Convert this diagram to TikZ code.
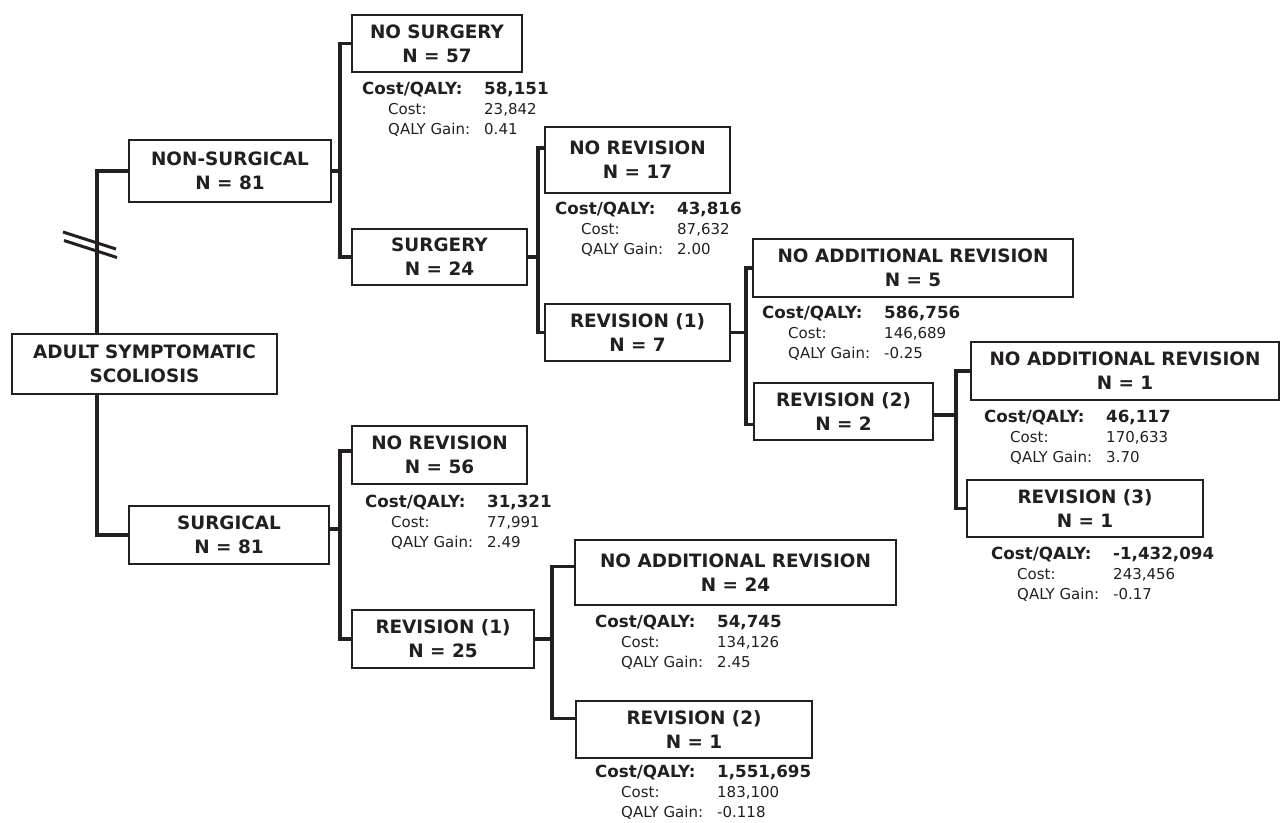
\documentclass[tikz,border=0pt]{standalone}
\usepackage{fontspec}
\setmainfont{DejaVu Sans}
\usepackage{xcolor}
\usepackage{tikz}
\definecolor{ink}{RGB}{35,31,32}

\newcommand{\boxfont}{\bfseries\fontsize{18.4}{24}\selectfont}
\newcommand{\infofont}{\fontsize{15}{20}\selectfont}
\newcommand{\infobold}{\bfseries\fontsize{16.7}{20}\selectfont}
\newcommand{\costinfo}[3]{%
  \begin{tabular}[t]{@{}p{122pt}@{}l@{}}
    {\infobold Cost/QALY:} & {\infobold #1}\\
    \hspace*{26pt}Cost: & #2\\
    \hspace*{26pt}QALY Gain: & #3
  \end{tabular}}

\begin{document}
\begin{tikzpicture}[x=1pt, y=-1pt,
    box/.style={draw=ink, line width=2.3pt, fill=white, text=ink, font=\boxfont, align=center, inner sep=0pt},
    link/.style={draw=ink, line width=3.5pt},
    info/.style={text=ink, font=\infofont, inner sep=0pt, anchor=base west}]
    \useasboundingbox (0,0) rectangle (1281,822);

    % Root and the two arms
    \node[box, minimum width=265, minimum height=60] (root) at (144.5,364) {ADULT SYMPTOMATIC\\SCOLIOSIS};
    \node[box, minimum width=202, minimum height=62] (nsurg) at (230,171) {NON-SURGICAL\\N = 81};
    \node[box, minimum width=200, minimum height=58] (surg) at (229,535) {SURGICAL\\N = 81};
    \coordinate (trunk) at (97,364);
    \draw[link] (nsurg.west) -| (root.north -| trunk);
    \draw[link] (root.south -| trunk) |- (surg.west);
    \draw[ink, line width=3pt] (63,232) -- (116,249);
    \draw[ink, line width=3pt] (64,240.5) -- (117,257.5);

    % Non-surgical arm
    \node[box, minimum width=170, minimum height=57] (nosurg) at (437,43.5) {NO SURGERY\\N = 57};
    \node[info] (nosurgC) at (362,94) {\costinfo{58,151}{23,842}{0.41}};
    \node[box, minimum width=175, minimum height=56] (surgery) at (439.5,257) {SURGERY\\N = 24};
    \draw[link] (nsurg.east) -- ++(8,0) coordinate (jnsurg);
    \draw[link] (nosurg.west) -| (jnsurg) |- (surgery.west);

    \node[box, minimum width=185, minimum height=66] (norevA) at (637.5,160) {NO REVISION\\N = 17};
    \node[info] (norevAC) at (555,214) {\costinfo{43,816}{87,632}{2.00}};
    \node[box, minimum width=185, minimum height=57] (revA) at (637.5,332.5) {REVISION (1)\\N = 7};
    \draw[link] (surgery.east) -- ++(10,0) coordinate (jsurgery);
    \draw[link] ([yshift=12pt]norevA.west) -| (jsurgery) |- (revA.west);

    \node[box, minimum width=320, minimum height=58] (noaddA) at (913,268) {NO ADDITIONAL REVISION\\N = 5};
    \node[info] (noaddAC) at (762,318) {\costinfo{586,756}{146,689}{-0.25}};
    \node[box, minimum width=179, minimum height=57] (revB) at (843.5,411.5) {REVISION (2)\\N = 2};
    \draw[link] (revA.east) -- ++(15,0) coordinate (jrevA);
    \draw[link] (noaddA.west) -| (jrevA) |- ([yshift=-13pt]revB.west);

    \node[box, minimum width=308, minimum height=58] (noaddB) at (1125,371) {NO ADDITIONAL REVISION\\N = 1};
    \node[info] (noaddBC) at (984,422) {\costinfo{46,117}{170,633}{3.70}};
    \node[box, minimum width=236, minimum height=57] (revC) at (1085,508.5) {REVISION (3)\\N = 1};
    \node[info] (revCC) at (991,559) {\costinfo{-1,432,094}{243,456}{-0.17}};
    \draw[link] ([yshift=-3.5pt]revB.east) -- ++(22,0) coordinate (jrevB);
    \draw[link] (noaddB.west) -| (jrevB) |- (revC.west);

    % Surgical arm
    \node[box, minimum width=175, minimum height=58] (norevB) at (439.5,455) {NO REVISION\\N = 56};
    \node[info] (norevBC) at (365,507) {\costinfo{31,321}{77,991}{2.49}};
    \node[box, minimum width=182, minimum height=58] (revD) at (443,639) {REVISION (1)\\N = 25};
    \draw[link] ([yshift=6pt]surg.east) -- ++(10,0) coordinate (jsurg);
    \draw[link] ([yshift=4pt]norevB.west) -| (jsurg) |- (revD.west);

    \node[box, minimum width=321, minimum height=65] (noaddC) at (735.5,572.5) {NO ADDITIONAL REVISION\\N = 24};
    \node[info] (noaddCC) at (595,627) {\costinfo{54,745}{134,126}{2.45}};
    \node[box, minimum width=236, minimum height=57] (revE) at (694,729.5) {REVISION (2)\\N = 1};
    \node[info] (revEC) at (595,777) {\costinfo{1,551,695}{183,100}{-0.118}};
    \draw[link] (revD.east) -- ++(17,0) coordinate (jrevD);
    \draw[link] ([yshift=6pt]noaddC.west) -| (jrevD) |- ([yshift=11pt]revE.west);
\end{tikzpicture}
\end{document}
